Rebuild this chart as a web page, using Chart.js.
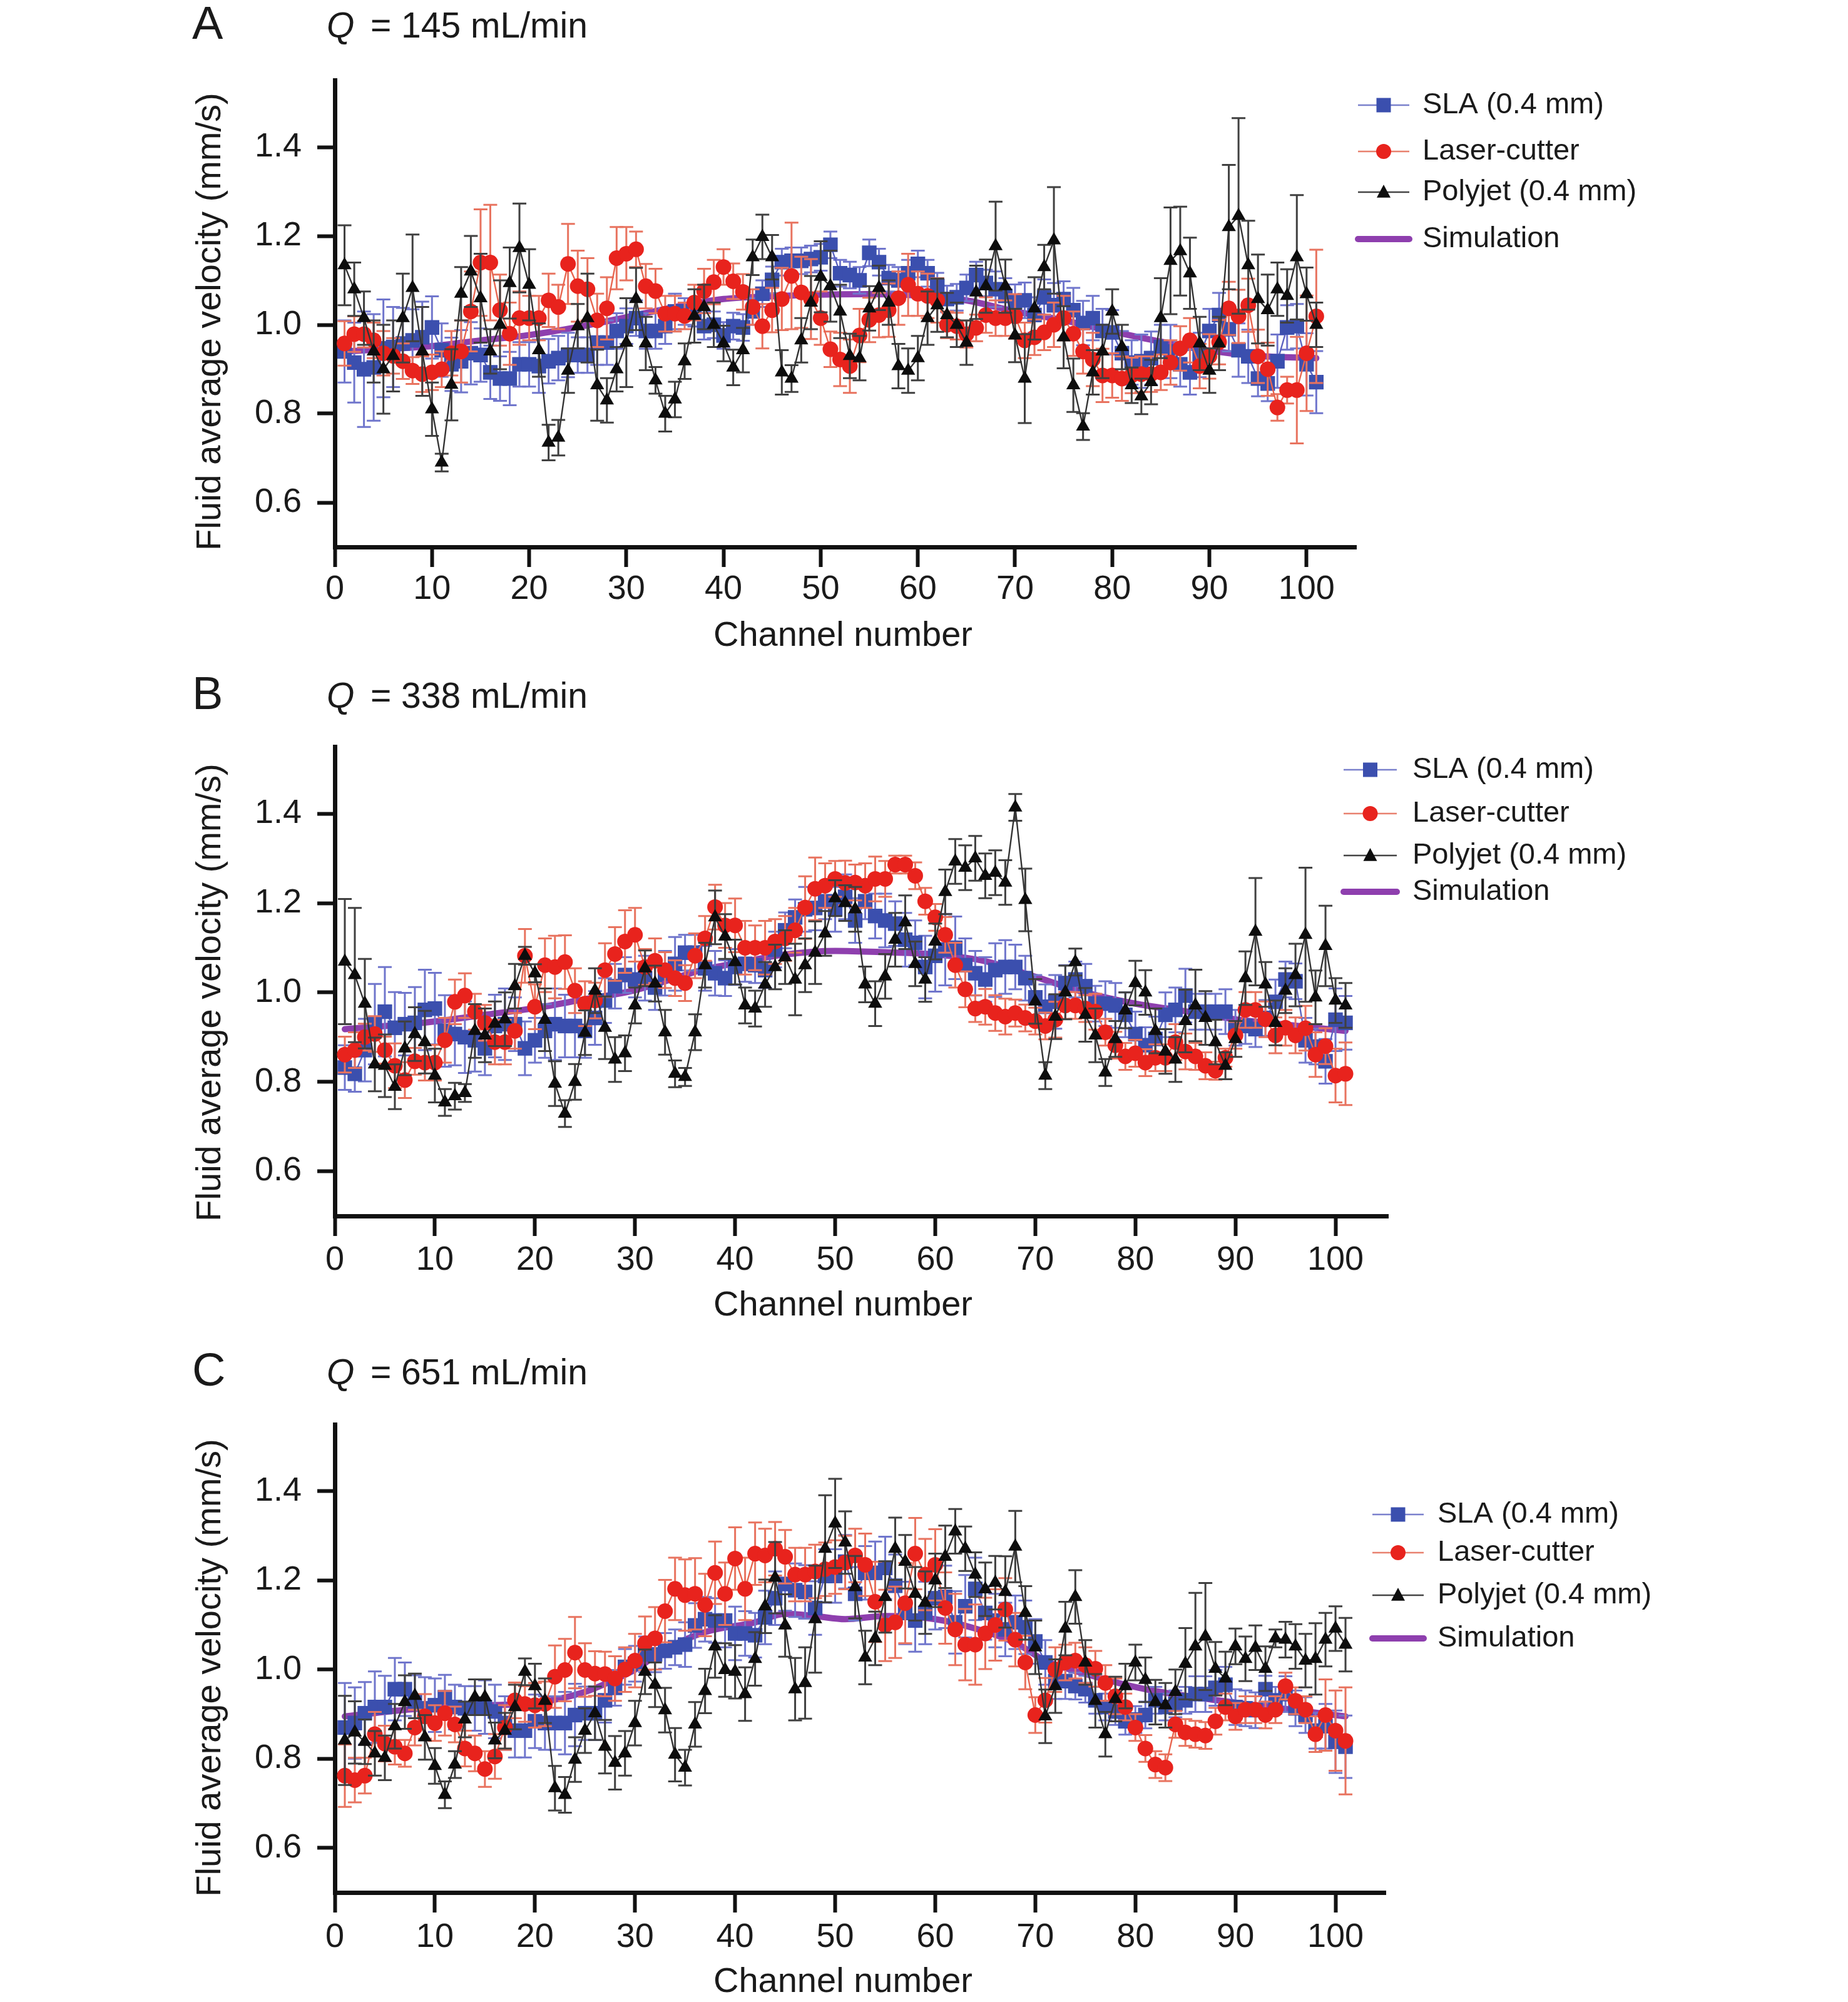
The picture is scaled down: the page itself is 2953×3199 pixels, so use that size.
<!DOCTYPE html>
<html><head><meta charset="utf-8">
<script src="https://cdn.jsdelivr.net/npm/chart.js@4.4.0/dist/chart.umd.min.js"></script>
<style>
html,body{margin:0;padding:0;background:#fff;}
body{width:2953px;height:3199px;position:relative;overflow:hidden;font-family:'Liberation Sans',Arial,sans-serif;color:#1a1a1a;}
canvas{position:absolute;left:0;}
.lbl{position:absolute;line-height:1;white-space:nowrap;z-index:2;}
.pl{font-size:74px;}
.q{font-size:57px;}
</style></head><body>
<canvas id="cA" width="2953" height="1066" style="top:0px;width:2953px;height:1066px"></canvas>
<canvas id="cB" width="2953" height="1066" style="top:1066px;width:2953px;height:1066px"></canvas>
<canvas id="cC" width="2953" height="1066" style="top:2133px;width:2953px;height:1066px"></canvas>
<div class="lbl pl" style="left:307px;top:0px">A</div>
<div class="lbl q" style="left:522px;top:12px;font-style:italic">Q</div>
<div class="lbl q" style="left:592px;top:12px">= 145 mL/min</div>
<div class="lbl pl" style="left:307px;top:1071px">B</div>
<div class="lbl q" style="left:522px;top:1083px;font-style:italic">Q</div>
<div class="lbl q" style="left:592px;top:1083px">= 338 mL/min</div>
<div class="lbl pl" style="left:307px;top:2152px">C</div>
<div class="lbl q" style="left:522px;top:2164px;font-style:italic">Q</div>
<div class="lbl q" style="left:592px;top:2164px">= 651 mL/min</div>
<script>
// ---------------- DATA ----------------
const channels = [1,2,3,4,5,6,7,8,9,10,11,12,13,14,15,16,17,18,19,20,21,22,23,24,25,26,27,28,29,30,
31,32,33,34,35,36,37,38,39,40,41,42,43,44,45,46,47,48,49,50,51,52,53,54,55,56,57,58,59,60,
61,62,63,64,65,66,67,68,69,70,71,72,73,74,75,76,77,78,79,80,81,82,83,84,85,86,87,88,89,90,
91,92,93,94,95,96,97,98,99,100,101];
const seriesLabels = ['SLA (0.4 mm)','Laser-cutter','Polyjet (0.4 mm)','Simulation'];
const xTickValues = [0,10,20,30,40,50,60,70,80,90,100];
const yTickValues = [0.6,0.8,1.0,1.2,1.4];
const xAxisTitle = 'Channel number';
const yAxisTitle = 'Fluid average velocity (mm/s)';

// Panel A (Q = 145 mL/min)
const slaA = [0.94,0.915,0.90,0.904,0.947,0.95,0.958,0.965,0.972,0.994,
0.943,0.911,0.918,0.936,0.932,0.893,0.879,0.879,0.911,0.911,
0.907,0.918,0.925,0.932,0.932,0.932,0.96,0.96,0.986,0.997,
1.015,0.986,0.986,0.997,1.03,1.03,1.026,0.997,1.0,0.976,
0.997,0.994,1.03,1.07,1.101,1.141,1.144,1.144,1.148,1.152,
1.18,1.116,1.112,1.10,1.162,1.141,1.105,1.10,1.116,1.137,
1.116,1.087,1.058,1.062,1.083,1.112,1.094,1.08,1.065,1.051,
1.055,1.022,1.062,1.044,1.058,1.033,1.004,1.015,0.986,0.983,
0.936,0.915,0.918,0.925,0.95,0.94,0.911,0.893,0.932,0.986,
1.022,0.99,0.943,0.929,0.879,0.868,0.918,0.994,0.997,0.911,0.871];
const slaAerr = [0.07,0.09,0.13,0.12,0.11,0.09,0.08,0.07,0.08,0.07,
0.06,0.06,0.07,0.07,0.06,0.06,0.05,0.06,0.05,0.05,
0.06,0.05,0.05,0.05,0.04,0.04,0.05,0.05,0.04,0.04,
0.04,0.04,0.04,0.04,0.04,0.03,0.03,0.03,0.03,0.03,
0.03,0.03,0.03,0.03,0.03,0.03,0.03,0.03,0.03,0.03,
0.03,0.03,0.03,0.03,0.03,0.03,0.03,0.03,0.03,0.03,
0.03,0.03,0.03,0.03,0.03,0.03,0.03,0.04,0.04,0.04,
0.04,0.04,0.04,0.05,0.04,0.05,0.05,0.05,0.05,0.05,
0.05,0.05,0.06,0.06,0.05,0.06,0.05,0.05,0.05,0.05,
0.05,0.05,0.06,0.06,0.04,0.04,0.06,0.05,0.05,0.07,0.07];
const laserA = [0.958,0.979,0.979,0.965,0.936,0.93,0.918,0.897,0.889,0.893,
0.90,0.936,0.94,1.03,1.14,1.14,1.033,0.98,1.015,1.015,
1.015,1.055,1.04,1.137,1.087,1.08,1.01,1.037,1.15,1.16,
1.17,1.087,1.076,1.025,1.025,1.02,1.05,1.076,1.096,1.13,
1.098,1.074,1.04,0.997,1.033,1.058,1.11,1.073,1.058,1.015,
0.945,0.922,0.907,0.976,1.011,1.022,1.033,1.06,1.09,1.07,
1.065,1.055,1.0,0.997,0.979,0.993,1.022,1.015,1.015,1.019,
0.965,0.972,0.983,1.0,1.015,0.98,0.94,0.922,0.886,0.886,
0.879,0.886,0.889,0.889,0.893,0.915,0.947,0.965,0.907,0.929,
0.961,1.037,1.019,1.044,0.929,0.90,0.814,0.853,0.853,0.936,1.019];
const laserAerr = [0.05,0.04,0.03,0.04,0.05,0.04,0.04,0.03,0.04,0.04,
0.04,0.05,0.07,0.09,0.12,0.13,0.08,0.07,0.06,0.05,
0.05,0.06,0.05,0.09,0.08,0.07,0.06,0.07,0.07,0.06,
0.04,0.05,0.05,0.04,0.04,0.03,0.04,0.05,0.05,0.04,
0.04,0.04,0.04,0.05,0.05,0.07,0.12,0.08,0.09,0.06,
0.04,0.06,0.06,0.06,0.05,0.05,0.06,0.06,0.07,0.05,
0.05,0.05,0.03,0.03,0.03,0.03,0.04,0.04,0.04,0.05,
0.04,0.04,0.04,0.05,0.05,0.05,0.05,0.06,0.06,0.05,
0.05,0.04,0.04,0.04,0.04,0.05,0.05,0.05,0.05,0.05,
0.05,0.06,0.06,0.06,0.06,0.06,0.03,0.03,0.12,0.13,0.15];
const polyA = [1.134,1.08,1.015,0.94,0.90,0.93,1.015,1.083,0.94,0.81,
0.69,0.865,1.07,1.12,1.06,0.94,1.0,1.094,1.173,1.09,
0.943,0.735,0.746,0.897,0.997,1.015,0.864,0.83,0.9,0.96,
1.058,0.958,0.875,0.80,0.832,0.918,1.02,1.04,1.0,0.958,
0.904,0.943,1.152,1.198,1.152,0.893,0.879,0.965,1.05,1.108,
1.087,1.03,0.93,0.925,1.037,1.083,1.05,0.907,0.897,0.925,
1.015,1.044,1.022,1.0,0.96,1.073,1.087,1.177,1.087,0.976,
0.879,1.037,1.13,1.19,0.972,0.864,0.771,0.893,0.94,1.03,
0.95,0.864,0.839,0.871,1.015,1.144,1.166,1.116,0.958,0.897,
0.958,1.22,1.245,1.134,1.058,1.033,1.08,1.065,1.152,1.069,1.0];
const polyAerr = [0.09,0.06,0.06,0.07,0.1,0.08,0.1,0.12,0.1,0.06,
0.02,0.08,0.06,0.08,0.1,0.05,0.1,0.08,0.1,0.08,
0.06,0.04,0.04,0.05,0.05,0.1,0.08,0.05,0.05,0.1,
0.07,0.06,0.03,0.04,0.04,0.04,0.06,0.05,0.05,0.04,
0.04,0.05,0.04,0.05,0.05,0.05,0.03,0.05,0.06,0.08,
0.08,0.06,0.05,0.05,0.05,0.05,0.05,0.05,0.05,0.05,
0.06,0.06,0.05,0.05,0.05,0.06,0.06,0.1,0.06,0.06,
0.1,0.07,0.05,0.12,0.07,0.06,0.03,0.05,0.06,0.05,
0.05,0.04,0.04,0.05,0.09,0.12,0.1,0.08,0.06,0.05,
0.06,0.14,0.22,0.1,0.1,0.08,0.06,0.06,0.14,0.06,0.05];
const simAx = [1,5,10,15,20,25,30,35,40,45,50,55,60,65,70,75,80,85,90,95,101];
const simAy = [0.94,0.945,0.952,0.965,0.977,0.995,1.017,1.04,1.058,1.064,1.068,1.069,1.066,1.055,1.03,1.01,0.985,0.962,0.942,0.93,0.925];

// Panel B (Q = 338 mL/min)
const slaB = [0.832,0.818,0.871,0.929,0.957,0.921,0.929,0.932,0.961,0.964,
0.914,0.907,0.9,0.893,0.875,0.925,0.929,0.929,0.875,0.893,
0.914,0.929,0.925,0.925,0.914,0.943,0.982,1.014,1.039,1.029,
1.032,1.011,1.043,1.064,1.089,1.089,1.054,1.043,1.032,1.057,
1.064,1.061,1.05,1.096,1.139,1.168,1.186,1.189,1.204,1.186,
1.214,1.161,1.204,1.171,1.161,1.154,1.118,1.111,1.057,1.082,
1.096,1.1,1.061,1.043,1.029,1.05,1.057,1.057,1.032,0.989,
0.968,0.979,1.021,1.029,1.014,0.975,0.975,0.971,0.95,0.907,
0.882,0.896,0.95,0.961,0.993,0.957,0.957,0.957,0.957,0.921,
0.925,0.918,0.943,0.979,1.029,1.025,0.893,0.879,0.846,0.939,0.932];
const slaBerr = [0.05,0.04,0.07,0.09,0.1,0.08,0.07,0.08,0.09,0.08,
0.08,0.07,0.08,0.07,0.06,0.07,0.08,0.06,0.06,0.05,
0.06,0.08,0.07,0.07,0.06,0.06,0.05,0.05,0.04,0.04,
0.05,0.05,0.05,0.06,0.04,0.04,0.05,0.05,0.04,0.04,
0.04,0.04,0.04,0.04,0.04,0.04,0.05,0.05,0.04,0.05,
0.05,0.05,0.04,0.05,0.06,0.05,0.06,0.05,0.07,0.08,
0.08,0.07,0.06,0.05,0.05,0.06,0.06,0.05,0.05,0.05,
0.05,0.06,0.04,0.04,0.05,0.04,0.05,0.05,0.05,0.05,
0.04,0.05,0.05,0.05,0.06,0.04,0.04,0.04,0.05,0.04,
0.04,0.04,0.04,0.05,0.04,0.04,0.05,0.04,0.05,0.07,0.06];
const laserB = [0.861,0.871,0.9,0.907,0.871,0.836,0.804,0.846,0.843,0.843,
0.893,0.979,0.993,0.957,0.932,0.889,0.889,0.914,1.082,0.968,
1.061,1.057,1.068,1.004,0.975,0.982,1.05,1.086,1.114,1.129,
1.057,1.071,1.05,1.032,1.021,1.082,1.121,1.191,1.15,1.15,
1.1,1.1,1.1,1.114,1.121,1.139,1.19,1.232,1.239,1.254,
1.245,1.246,1.239,1.254,1.254,1.286,1.286,1.261,1.204,1.168,
1.129,1.061,1.007,0.964,0.968,0.954,0.946,0.954,0.943,0.936,
0.925,0.939,0.971,0.971,0.964,0.957,0.911,0.882,0.857,0.864,
0.843,0.854,0.854,0.889,0.868,0.857,0.836,0.825,0.854,0.904,
0.961,0.961,0.94,0.904,0.921,0.904,0.92,0.861,0.88,0.814,0.818];
const laserBerr = [0.04,0.04,0.03,0.04,0.03,0.05,0.04,0.03,0.04,0.04,
0.05,0.05,0.05,0.04,0.04,0.05,0.05,0.04,0.06,0.05,
0.06,0.07,0.06,0.05,0.05,0.04,0.06,0.06,0.07,0.06,
0.04,0.05,0.04,0.04,0.04,0.05,0.05,0.05,0.05,0.06,
0.06,0.05,0.06,0.05,0.05,0.05,0.07,0.07,0.05,0.04,
0.05,0.04,0.05,0.05,0.04,0.02,0.02,0.03,0.03,0.03,
0.04,0.05,0.04,0.03,0.04,0.04,0.04,0.03,0.03,0.03,
0.03,0.04,0.03,0.03,0.03,0.04,0.03,0.03,0.03,0.03,
0.03,0.03,0.03,0.04,0.04,0.03,0.03,0.02,0.02,0.03,
0.04,0.04,0.04,0.04,0.04,0.04,0.05,0.05,0.04,0.06,0.07];
const polyB = [1.069,1.039,0.975,0.839,0.836,0.789,0.875,0.907,0.889,0.814,
0.754,0.768,0.775,0.914,0.904,0.93,0.94,1.014,1.082,1.043,
0.939,0.796,0.729,0.8,0.91,1.004,0.921,0.85,0.864,0.971,
1.054,1.02,0.911,0.818,0.811,0.911,1.061,1.168,1.125,1.068,
0.971,0.964,1.018,1.057,1.079,1.029,1.061,1.089,1.132,1.211,
1.2,1.186,1.018,0.975,1.036,1.118,1.157,1.064,1.029,1.114,
1.225,1.293,1.279,1.3,1.261,1.268,1.246,1.414,1.207,0.98,
0.814,0.946,1.0,1.068,0.95,0.904,0.821,0.896,0.96,1.021,
1.0,0.914,0.868,0.85,0.936,0.971,0.943,0.889,0.836,0.896,
1.032,1.136,1.018,0.932,1.004,1.039,1.129,0.989,1.104,0.982,0.971];
const polyBerr = [0.14,0.15,0.1,0.06,0.07,0.05,0.06,0.06,0.07,0.06,
0.03,0.03,0.02,0.06,0.06,0.05,0.06,0.05,0.02,0.02,
0.07,0.05,0.03,0.04,0.05,0.05,0.07,0.05,0.04,0.04,
0.04,0.04,0.05,0.03,0.02,0.04,0.05,0.06,0.05,0.05,
0.04,0.04,0.05,0.05,0.06,0.08,0.06,0.07,0.05,0.04,
0.04,0.05,0.04,0.05,0.05,0.06,0.06,0.05,0.05,0.04,
0.05,0.05,0.05,0.05,0.05,0.05,0.05,0.03,0.07,0.05,
0.03,0.05,0.06,0.03,0.06,0.06,0.03,0.04,0.04,0.05,
0.05,0.05,0.05,0.05,0.07,0.08,0.06,0.05,0.03,0.04,
0.06,0.12,0.05,0.05,0.05,0.07,0.15,0.06,0.09,0.05,0.05];
const simBx = [1,5,10,15,20,25,30,33,37,40,45,50,55,60,65,70,75,80,85,90,95,101];
const simBy = [0.918,0.925,0.935,0.95,0.965,0.985,1.005,1.025,1.052,1.065,1.085,1.093,1.09,1.085,1.07,1.035,1.0,0.975,0.958,0.94,0.928,0.914];

// Panel C (Q = 651 mL/min)
const slaC = [0.87,0.88,0.902,0.916,0.916,0.956,0.956,0.927,0.913,0.92,
0.938,0.916,0.913,0.913,0.916,0.906,0.88,0.863,0.863,0.884,
0.88,0.88,0.88,0.898,0.902,0.902,0.931,0.959,1.006,1.013,
1.034,1.034,1.042,1.05,1.056,1.099,1.113,1.11,1.11,1.081,
1.081,1.077,1.117,1.16,1.192,1.178,1.174,1.138,1.21,1.21,
1.242,1.17,1.217,1.217,1.228,1.188,1.127,1.11,1.127,1.16,
1.163,1.106,1.142,1.181,1.127,1.11,1.09,1.106,1.095,1.063,
1.016,0.974,0.974,0.963,0.956,0.931,0.916,0.906,0.884,0.888,
0.898,0.931,0.916,0.923,0.931,0.945,0.945,0.959,0.966,0.916,
0.913,0.909,0.956,0.931,0.945,0.913,0.898,0.863,0.873,0.838,0.827];
const slaCerr = [0.1,0.08,0.07,0.08,0.07,0.07,0.06,0.06,0.07,0.06,
0.05,0.05,0.05,0.05,0.06,0.06,0.06,0.06,0.06,0.06,
0.06,0.06,0.07,0.07,0.06,0.06,0.05,0.04,0.04,0.04,
0.04,0.04,0.04,0.04,0.05,0.05,0.05,0.05,0.06,0.06,
0.05,0.05,0.06,0.06,0.06,0.06,0.06,0.06,0.06,0.06,
0.06,0.06,0.06,0.07,0.07,0.07,0.07,0.07,0.07,0.07,
0.07,0.07,0.07,0.07,0.06,0.06,0.06,0.06,0.06,0.05,
0.05,0.04,0.04,0.03,0.03,0.03,0.03,0.03,0.03,0.03,
0.03,0.03,0.03,0.03,0.03,0.04,0.04,0.04,0.04,0.04,
0.04,0.04,0.03,0.03,0.04,0.04,0.04,0.04,0.05,0.07,0.07];
const laserC = [0.762,0.752,0.762,0.855,0.834,0.827,0.812,0.87,0.895,0.88,
0.902,0.877,0.823,0.812,0.777,0.805,0.87,0.931,0.923,0.92,
0.923,0.984,0.999,1.038,0.999,0.991,0.99,0.98,1.0,1.02,
1.059,1.07,1.131,1.181,1.167,1.17,1.145,1.217,1.17,1.249,
1.181,1.26,1.256,1.271,1.253,1.213,1.213,1.22,1.225,1.23,
1.24,1.256,1.235,1.152,1.099,1.106,1.149,1.26,1.213,1.235,
1.138,1.09,1.056,1.056,1.081,1.1,1.135,1.067,1.016,0.898,
0.931,1.0,1.016,1.02,1.01,1.002,0.97,0.94,0.916,0.87,
0.823,0.787,0.78,0.877,0.859,0.855,0.852,0.884,0.916,0.895,
0.91,0.91,0.898,0.91,0.963,0.93,0.91,0.855,0.898,0.863,0.84];
const laserCerr = [0.07,0.05,0.04,0.05,0.04,0.04,0.03,0.04,0.05,0.04,
0.05,0.04,0.04,0.04,0.04,0.05,0.05,0.04,0.04,0.05,
0.05,0.07,0.07,0.08,0.06,0.05,0.05,0.05,0.05,0.06,
0.06,0.07,0.07,0.07,0.08,0.08,0.07,0.07,0.07,0.07,
0.07,0.07,0.06,0.06,0.06,0.06,0.06,0.06,0.06,0.06,
0.06,0.06,0.07,0.09,0.08,0.08,0.09,0.08,0.08,0.08,
0.08,0.08,0.08,0.09,0.08,0.08,0.07,0.06,0.06,0.04,
0.05,0.05,0.04,0.04,0.04,0.04,0.04,0.04,0.03,0.03,
0.03,0.03,0.03,0.03,0.03,0.03,0.03,0.03,0.03,0.03,
0.03,0.03,0.03,0.03,0.03,0.03,0.03,0.04,0.08,0.09,0.12];
const polyC = [0.841,0.859,0.838,0.812,0.802,0.873,0.927,0.941,0.848,0.784,
0.719,0.787,0.888,0.938,0.938,0.841,0.863,0.916,0.995,0.963,
0.93,0.734,0.719,0.798,0.863,0.902,0.827,0.791,0.812,0.88,
0.995,0.966,0.909,0.809,0.78,0.877,0.952,1.052,0.999,0.995,
0.945,1.024,1.142,1.206,1.099,0.956,0.97,1.113,1.271,1.328,
1.285,1.185,1.027,1.07,1.163,1.271,1.242,1.17,1.15,1.2,
1.253,1.31,1.271,1.213,1.18,1.195,1.174,1.276,1.127,1.05,
0.895,0.963,1.092,1.163,1.016,0.93,0.855,0.934,0.963,1.016,
0.977,0.927,0.92,0.95,1.013,1.052,1.074,1.002,0.98,1.052,
1.024,1.049,1.002,1.07,1.067,1.052,1.02,1.024,1.067,1.092,1.056];
const polyCerr = [0.1,0.07,0.05,0.05,0.05,0.05,0.06,0.05,0.05,0.04,
0.03,0.03,0.04,0.04,0.04,0.04,0.04,0.05,0.03,0.05,
0.05,0.05,0.04,0.05,0.05,0.06,0.06,0.06,0.05,0.05,
0.05,0.05,0.05,0.06,0.04,0.05,0.05,0.07,0.06,0.06,
0.06,0.06,0.06,0.08,0.07,0.07,0.08,0.12,0.12,0.1,
0.07,0.07,0.06,0.06,0.08,0.07,0.06,0.06,0.07,0.06,
0.07,0.05,0.05,0.05,0.06,0.06,0.08,0.08,0.06,0.06,
0.06,0.06,0.06,0.06,0.05,0.06,0.05,0.05,0.05,0.04,
0.05,0.05,0.05,0.05,0.08,0.12,0.12,0.06,0.06,0.04,
0.05,0.05,0.05,0.02,0.04,0.05,0.06,0.08,0.06,0.05,0.06];
const simCx = [1,5,10,15,20,25,28,30,33,37,42,45,48,51,55,60,64,68,71,76,81,86,91,96,101];
const simCy = [0.895,0.905,0.915,0.92,0.925,0.95,0.978,1.0,1.045,1.084,1.106,1.125,1.12,1.113,1.12,1.113,1.092,1.06,1.02,0.984,0.956,0.938,0.923,0.909,0.895];

// ---------------- STYLE / LAYOUT ----------------
const FONT = "'Liberation Sans', Arial, Helvetica, sans-serif";
const INK = '#1a1a1a';
const STY = {
  sla:   {line:'#5a62c0', err:'#7076cc', marker:'#3b4fae', legLine:'#7a80cc', style:'rect', r:16.5},
  laser: {line:'#e8654f', err:'#e8735f', marker:'#e8231d', legLine:'#e8806e', style:'circle', r:12.5},
  poly:  {line:'#333333', err:'#404040', marker:'#0d0d0d', legLine:'#444444', style:'triangle', r:13},
  sim:   {line:'#8e3fae'}
};

function pts(xs, ys){ return xs.map((x,i)=>({x:x, y:ys[i]})); }

const errorBarPlugin = {
  id: 'errorBars',
  beforeDatasetDraw(chart, args) {
    const ds = chart.data.datasets[args.index];
    if (!ds.errors || !args.meta.visible) return;
    const ctx = chart.ctx, xs = chart.scales.x, ys = chart.scales.y;
    ctx.save();
    ctx.strokeStyle = ds.errorColor;
    ctx.lineWidth = 3;
    ctx.lineCap = 'butt';
    const cap = 11;
    ds.data.forEach((p, i) => {
      const e = ds.errors[i];
      const x = xs.getPixelForValue(p.x);
      const yt = ys.getPixelForValue(p.y + e);
      const yb = ys.getPixelForValue(p.y - e);
      ctx.beginPath();
      ctx.moveTo(x, yt); ctx.lineTo(x, yb);
      ctx.moveTo(x - cap, yt); ctx.lineTo(x + cap, yt);
      ctx.moveTo(x - cap, yb); ctx.lineTo(x + cap, yb);
      ctx.stroke();
    });
    ctx.restore();
  }
};

function drawMarker(ctx, kind, cx, cy, color, s) {
  ctx.fillStyle = color;
  ctx.beginPath();
  if (kind === 'rect') ctx.rect(cx - s/2, cy - s/2, s, s);
  else if (kind === 'circle') ctx.arc(cx, cy, s/2, 0, Math.PI*2);
  else if (kind === 'triangle') { ctx.moveTo(cx, cy - s*0.55); ctx.lineTo(cx + s/2, cy + s*0.4); ctx.lineTo(cx - s/2, cy + s*0.4); ctx.closePath(); }
  ctx.fill();
}

const legendPlugin = {
  id: 'panelLegend',
  afterDraw(chart, args, o) {
    const ctx = chart.ctx;
    const items = [
      {st: STY.sla, w: 2.5, cap: 'butt', size: 23},
      {st: STY.laser, w: 2.5, cap: 'butt', size: 24},
      {st: STY.poly, w: 2.5, cap: 'butt', size: 22},
      {st: STY.sim, w: 10, cap: 'round', size: 0}
    ];
    ctx.save();
    items.forEach((it, k) => {
      const y = o.rows[k];
      ctx.beginPath();
      ctx.strokeStyle = it.st.legLine || it.st.line;
      ctx.lineWidth = it.w; ctx.lineCap = it.cap;
      ctx.moveTo(o.x1, y); ctx.lineTo(o.x2, y); ctx.stroke();
      if (it.size) drawMarker(ctx, it.st.style, (o.x1 + o.x2)/2, y, it.st.marker, it.size);
      ctx.fillStyle = INK;
      ctx.font = '47px ' + FONT;
      ctx.textAlign = 'left'; ctx.textBaseline = 'middle';
      ctx.fillText(seriesLabels[k], o.textX, y);
    });
    ctx.restore();
  }
};

// axis titles placed where the reference puts them
const axisTitlePlugin = {
  id: 'axisTitles',
  afterDraw(chart, args, o) {
    const ctx = chart.ctx;
    ctx.save();
    ctx.fillStyle = INK;
    ctx.font = '56px ' + FONT;
    ctx.textAlign = 'center'; ctx.textBaseline = 'middle';
    ctx.fillText(xAxisTitle, o.xTitleX, o.xTitleY);
    ctx.translate(o.yTitleX, o.yTitleY);
    ctx.rotate(-Math.PI / 2);
    ctx.fillText(yAxisTitle, 0, 0);
    ctx.restore();
  }
};

function makePanel(id, d, L) {
  const mk = (lbl, ys, errs, st, order) => ({
    label: lbl, data: pts(channels, ys), errors: errs, errorColor: st.err,
    borderColor: st.line, borderWidth: 2.4, fill: false, tension: 0,
    pointStyle: st.style, pointRadius: st.r, pointHoverRadius: st.r,
    pointBackgroundColor: st.marker, pointBorderColor: st.marker, pointBorderWidth: 0,
    order: order
  });
  const datasets = [
    mk(seriesLabels[0], d.sla, d.slaErr, STY.sla, 3),
    mk(seriesLabels[1], d.laser, d.laserErr, STY.laser, 2),
    mk(seriesLabels[2], d.poly, d.polyErr, STY.poly, 1),
    {label: seriesLabels[3], data: pts(d.simX, d.simY), borderColor: STY.sim.line, borderWidth: 10,
     borderCapStyle: 'round', pointRadius: 0, fill: false, cubicInterpolationMode: 'monotone', order: 4}
  ];
  const H = 1066;
  new Chart(document.getElementById(id), {
    type: 'line',
    data: {datasets},
    plugins: [errorBarPlugin, legendPlugin, axisTitlePlugin],
    options: {
      responsive: false, animation: false, devicePixelRatio: 1,
      layout: {padding: {left: 0, top: L.top, right: 2953 - L.right, bottom: 0}},
      plugins: {legend: {display: false}, tooltip: {enabled: false},
        panelLegend: {x1: L.legX1, x2: L.legX2, textX: L.legText, rows: L.legRows},
        axisTitles: {xTitleX: 1347, xTitleY: L.xTitleY, yTitleX: 337, yTitleY: L.yTitleY}},
      scales: {
        x: {
          type: 'linear', min: 0, max: L.xMax,
          afterBuildTicks: s => { s.ticks = xTickValues.map(v => ({value: v})); },
          afterFit: s => { s.height = H - L.bottom; },
          grid: {drawOnChartArea: false, drawTicks: true, tickLength: 32, tickWidth: 6, tickColor: '#111'},
          border: {display: true, color: '#111', width: 7},
          ticks: {font: {size: 54, family: FONT}, color: INK, padding: L.tickPad, maxRotation: 0, autoSkip: false,
                  callback: v => String(v)},
          title: {display: false}
        },
        y: {
          type: 'linear', min: 0.5, max: 1.55,
          afterBuildTicks: s => { s.ticks = yTickValues.map(v => ({value: v})); },
          afterFit: s => { s.width = 535; },
          grid: {drawOnChartArea: false, drawTicks: true, tickLength: 28, tickWidth: 6, tickColor: '#111'},
          border: {display: true, color: '#111', width: 7},
          ticks: {font: {size: 54, family: FONT}, color: INK, padding: 25, callback: v => v.toFixed(1)},
          title: {display: false}
        }
      }
    }
  });
}

makePanel('cA', {sla: slaA, slaErr: slaAerr, laser: laserA, laserErr: laserAerr, poly: polyA, polyErr: polyAerr, simX: simAx, simY: simAy},
  {top: 128.5, bottom: 874, right: 2167, xMax: 105.1, tickPad: 4, xTitleY: 1017, yTitleY: 514,
   legX1: 2170, legX2: 2252, legText: 2273, legRows: [168, 242, 307, 382]});
makePanel('cB', {sla: slaB, slaErr: slaBerr, laser: laserB, laserErr: laserBerr, poly: polyB, polyErr: polyBerr, simX: simBx, simY: simBy},
  {top: 127, bottom: 877, right: 2218, xMax: 105.25, tickPad: 7, xTitleY: 1021, yTitleY: 520,
   legX1: 2147, legX2: 2232, legText: 2257, legRows: [164, 234, 301, 359]});
makePanel('cC', {sla: slaC, slaErr: slaCerr, laser: laserC, laserErr: laserCerr, poly: polyC, polyErr: polyCerr, simX: simCx, simY: simCy},
  {top: 143, bottom: 891, right: 2214, xMax: 105.0, tickPad: 8, xTitleY: 1035, yTitleY: 532,
   legX1: 2193, legX2: 2275, legText: 2297, legRows: [287, 348, 416, 485]});
</script>
</body></html>
